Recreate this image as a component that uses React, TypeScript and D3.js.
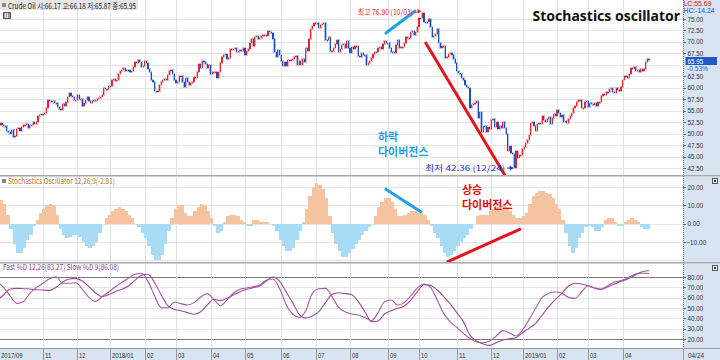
import React, { useEffect } from 'react';
import * as d3 from 'd3';

// ---- Daily closes (Crude Oil), by month ----
const firstOpen = 50.55;
const sep17 = [50.66, 51.88, 52.22, 51.88, 51.56, 51.67];
const oct17 = [50.58, 50.42, 49.98, 50.79, 49.29, 49.58, 50.92, 51.3, 50.6, 51.45, 51.87, 51.88, 52.04, 51.29, 51.84, 51.9, 52.47, 52.18, 52.64, 53.9, 54.15, 54.38];
const nov17 = [54.3, 54.54, 55.64, 57.35, 57.2, 56.81, 57.17, 56.74, 56.76, 55.7, 55.33, 55.14, 56.55, 56.09, 56.83, 58.02, 58.95, 58.11, 57.99, 57.3, 57.4];
const dec17 = [58.36, 57.47, 57.62, 55.96, 56.69, 57.36, 57.99, 57.14, 56.6, 57.04, 57.3, 57.16, 57.46, 57.69, 58.09, 58.47, 59.97, 59.64, 59.84, 60.42];
const jan18 = [60.37, 61.63, 62.01, 61.44, 61.73, 62.96, 63.57, 63.8, 64.3, 63.73, 63.97, 63.95, 63.37, 63.57, 64.47, 65.61, 65.51, 66.14, 65.56, 64.5, 64.73];
const feb18 = [65.8, 65.45, 64.15, 63.39, 61.79, 61.15, 59.2, 59.29, 59.19, 60.6, 61.34, 61.68, 61.9, 61.68, 62.77, 63.55, 63.91, 63.01, 61.64];
const mar18 = [61.0, 61.25, 62.57, 62.6, 61.15, 60.12, 62.04, 61.36, 60.71, 60.96, 61.19, 62.34, 62.06, 63.4, 65.17, 64.3, 65.88, 65.55, 65.25, 64.38, 64.94];
const apr18 = [63.01, 63.51, 63.37, 63.54, 62.06, 63.42, 65.51, 66.82, 67.07, 67.39, 66.22, 66.52, 68.47, 68.29, 68.38, 68.64, 67.7, 68.05, 68.19, 68.1, 68.57];
const may18 = [67.25, 67.93, 68.43, 69.72, 70.73, 69.06, 71.14, 71.36, 70.7, 70.96, 71.31, 71.49, 71.49, 71.28, 72.35, 72.2, 71.84, 70.71, 67.88, 66.73, 68.21, 67.04];
const jun18 = [65.81, 64.75, 65.52, 64.73, 65.95, 65.74, 66.1, 66.36, 66.64, 66.89, 65.06, 65.85, 65.07, 66.22, 65.54, 68.58, 68.08, 70.53, 72.76, 73.45, 74.15];
const jul18 = [73.94, 74.14, 72.94, 73.8, 73.85, 74.11, 70.38, 70.33, 71.01, 68.06, 68.08, 68.76, 69.46, 70.46, 67.89, 68.52, 69.3, 69.61, 68.69, 70.13, 68.76];
const aug18 = [67.66, 68.96, 68.49, 69.01, 69.17, 66.94, 66.81, 67.63, 67.2, 67.04, 65.01, 65.46, 65.91, 66.43, 67.35, 67.86, 67.83, 68.72, 68.87, 68.53, 69.51, 70.25, 69.8];
const sep18 = [69.87, 68.72, 67.77, 67.75, 67.54, 69.25, 70.37, 68.59, 68.99, 68.91, 69.85, 71.12, 70.8, 70.78, 72.08, 72.28, 71.57, 72.12, 73.25];
const oct18 = [75.3, 75.23, 76.41, 74.33, 74.34, 74.29, 74.96, 73.17, 70.97, 71.34, 71.78, 72.92, 69.75, 68.65, 69.12, 69.17, 66.43, 66.82, 67.33, 67.59, 67.04, 66.18, 65.31];
const nov18 = [63.69, 63.14, 63.1, 62.21, 61.67, 60.67, 60.19, 59.93, 55.69, 56.25, 56.46, 56.76, 57.2, 53.43, 54.63, 50.42, 51.63, 51.56, 50.29, 51.45, 50.93];
const dec18 = [52.95, 53.25, 51.49, 52.61, 51.0, 51.65, 51.15, 52.58, 51.2, 49.88, 46.24, 47.2, 45.88, 45.59, 42.53, 46.22, 44.61, 45.33, 45.41];
const jan19 = [46.54, 47.09, 47.96, 48.52, 49.78, 52.36, 52.59, 51.59, 50.51, 52.11, 52.31, 52.07, 53.8, 53.01, 52.62, 53.13, 53.69, 51.99, 53.31, 54.23, 53.79];
const feb19 = [55.26, 54.56, 53.66, 54.01, 52.64, 52.72, 52.41, 53.1, 53.9, 54.41, 55.59, 56.09, 56.92, 57.26, 57.26, 55.48, 55.5, 56.94, 57.22];
const mar19 = [55.8, 56.59, 56.56, 56.22, 56.66, 56.07, 56.79, 56.87, 58.26, 58.61, 58.52, 59.09, 59.03, 59.83, 59.98, 59.04, 58.82, 59.94, 59.41, 59.3, 60.14];
const apr19 = [61.59, 62.58, 62.46, 62.1, 63.08, 64.4, 64.05, 64.61, 63.58, 63.89, 63.4, 64.05, 63.76, 64.0, 65.7, 66.3, 65.95];

const monthCloses = [sep17, oct17, nov17, dec17, jan18, feb18, mar18, apr18, may18, jun18, jul18, aug18, sep18, oct18, nov18, dec18, jan19, feb19, mar19, apr19];
const monthLabels = ['2017/09', '', '11', '12', '2018/01', '02', '03', '04', '05', '06', '07', '08', '09', '10', '11', '12', '2019/01', '02', '03', '04'];

// ---- Stochastics oscillator histogram (one value per 2 trading days) ----
const oscHist = [
  13, 13, 11, 5, -3, -11, -16, -16, -13, -9, -6, -1, 2, 6, 8, 10, 11, 10, 5, -3,
  -6, -8, -7, -6, -6, -7, -10, -12, -13, -12, -10, -5, 0, 3, 5, 7, 8, 9, 8, 7,
  5, 3, 0, -2, -5, -8, -12, -17, -20, -20, -17, -11, -4, 3, 8, 10, 10, 6, 4, 4,
  7, 9, 11, 10, 7, 3, -1, -5, -4, 1, 4, 5, 5, 4, 2, 1, -1, -1, 2, 2,
  1, 1, 1, 0, -1, -4, -9, -12, -15, -15, -13, -9, -4, 1, 8, 15, 20, 22, 21, 19,
  14, 4, -5, -11, -15, -18, -18, -16, -14, -11, -9, -6, -4, -2, 0, 4, 9, 12, 14, 14,
  12, 8, 4, 4, 5, 6, 7, 7, 6, 6, 5, 2, -1, -5, -8, -12, -16, -18, -17, -15,
  -12, -10, -8, -6, -3, 0, 4, 5, 5, 5, 7, 8, 9, 10, 10, 9, 7, 5, 3, 3,
  4, 6, 11, 15, 17, 18, 18, 17, 16, 14, 11, 8, 2, -5, -12, -16, -13, -8, -5, -2,
  -1, -2, -4, -4, -2, 2, 3, 3, 1, -1, -1, 1, 2, 3, 2, 1, -2, -3, -2.81,
];

// ---- Fast %D / Slow %D (one value per 4 trading days, last = latest bar) ----
const fastD = [
  75.5, 70.0, 61.6, 54.5, 56.1, 64.2, 69.7, 73.9, 78.4, 80.3, 73.9, 73.9, 74.5, 68.1, 60.3, 56.4, 61.0, 65.5, 70.3, 74.8,
  78.7, 82.6, 83.6, 75.5, 61.6, 50.3, 50.3, 55.8, 54.2, 52.9, 55.2, 60.6, 63.9, 58.4, 52.2, 57.7, 64.5, 68.1, 69.4, 70.6,
  72.3, 76.8, 78.1, 69.0, 53.5, 44.2, 40.9, 47.4, 64.2, 68.7, 69.0, 61.0, 50.6, 46.4, 44.2, 43.2, 40.9, 37.7, 45.5, 56.1,
  57.7, 52.9, 55.2, 61.9, 69.4, 73.2, 70.0, 57.7, 44.8, 36.5, 31.3, 25.5, 20.6, 17.1, 16.4, 18.0, 22.9, 28.1, 26.1, 22.9,
  28.7, 39.0, 49.7, 60.3, 64.2, 65.5, 64.2, 60.3, 59.3, 65.8, 71.6, 69.0, 68.1, 71.9, 75.2, 76.5, 79.0, 82.3, 83.6, 83.6,
  83.27,
];
const slowD = [
  57.7, 62.6, 68.4, 69.0, 68.7, 68.4, 67.7, 67.4, 67.1, 70.0, 75.2, 78.1, 78.7, 76.1, 70.6, 64.8, 61.0, 62.9, 65.8, 68.1,
  71.3, 76.8, 81.6, 82.6, 74.5, 62.6, 52.2, 48.7, 47.4, 45.5, 43.9, 46.4, 52.9, 58.4, 57.1, 59.3, 62.6, 65.8, 68.1, 69.7,
  71.3, 76.1, 80.0, 76.1, 65.8, 55.2, 43.9, 40.3, 42.2, 46.4, 55.2, 63.2, 64.8, 63.9, 62.9, 56.1, 46.4, 36.8, 37.4, 44.2,
  47.4, 49.7, 51.9, 57.7, 65.8, 72.6, 71.9, 67.4, 61.0, 53.9, 45.5, 36.8, 23.8, 18.0, 15.1, 13.8, 16.4, 19.0, 20.3, 21.3,
  26.1, 30.3, 35.2, 43.2, 51.3, 58.4, 64.2, 71.3, 73.9, 73.2, 71.3, 69.4, 68.1, 70.6, 73.2, 75.8, 78.1, 81.3, 84.5, 86.1,
  86.08,
];

// ---- Axis ticks ----
const priceTicks = [42.5, 45, 47.5, 50, 52.5, 55, 57.5, 60, 62.5, 65, 67.5, 70, 72.5, 75];
const oscTicks = [20, 10, 0, -10];
const oscGrid = [20, 10, 0, -10, -20];
const stochTicks = [80, 70, 60, 50, 40, 30, 20];

// ---- Annotations (bar index / value) ----
const priceBlueLine = [{ i: 236.8, v: 71.95 }, { i: 254.4, v: 76.7 }];
const priceRedLine = [{ i: 261.1, v: 69.77 }, { i: 309.2, v: 40.98 }];
const oscBlueLine = [{ i: 236.8, v: 18.8 }, { i: 258.1, v: 6.5 }];
const oscRedLine = [{ i: 274.5, v: -20.7 }, { i: 318.3, v: -3.1 }];
const highIdx = 259;
const lowIdx = 315;

const KR = "'Noto Sans CJK KR', 'Noto Sans', sans-serif";
const NUM = "'Liberation Sans', Arial, sans-serif";
const AX_BG = '#d8e4f2';

function tl(s: string, digit = 3.5) {
  let w = 0;
  for (const ch of s) {
    if (ch >= '0' && ch <= '9') w += digit;
    else if (ch === '.' || ch === ':') w += 1.8;
    else if (ch === '-') w += 2.6;
    else if (ch === '/') w += 2.4;
    else if (ch === '%') w += 5;
    else w += 4.5;
  }
  return w;
}

export default function App() {
  useEffect(() => {
    document.body.style.margin = '0';
  }, []);

  const closes = monthCloses.flat();
  const n = closes.length;
  const monthStart: number[] = [];
  let acc = 0;
  for (const m of monthCloses) {
    monthStart.push(acc);
    acc += m.length;
  }

  const x = d3.scaleLinear().domain([0, n - 1]).range([-3, 649]);
  const step = x(1) - x(0);
  const yP = d3.scaleLinear().domain([42.5, 75]).range([168, 19]);
  const yO = d3.scaleLinear().domain([-10, 20]).range([242, 187]);
  const yS = d3.scaleLinear().domain([20, 80]).range([339, 277]);

  const stochIdx = (j: number, len: number) => (j < len - 1 ? j * 4 : n - 1);
  const lineGen = d3.line<number>().curve(d3.curveMonotoneX);
  const fastPath = lineGen.x((_, j) => x(stochIdx(j, fastD.length))).y((d) => yS(d))(fastD) || '';
  const slowPath = lineGen.x((_, j) => x(stochIdx(j, slowD.length))).y((d) => yS(d))(slowD) || '';

  const PR = 683;
  const gridX = monthStart.map((s, k) => ({ k, px: Math.round(x(s)) + 0.5 })).filter((g) => g.k >= 2);

  const candles = closes.map((c, i) => {
    const o = i === 0 ? firstOpen : closes[i - 1];
    const up = c >= o;
    const top = yP(Math.max(o, c));
    const bot = yP(Math.min(o, c));
    return { i, up, top, h: Math.max(1, bot - top) };
  });

  const pl = (pts: { i: number; v: number }[], ys: (v: number) => number) =>
    ({ x1: x(pts[0].i), y1: ys(pts[0].v), x2: x(pts[1].i), y2: ys(pts[1].v) });
  const pb = pl(priceBlueLine, yP);
  const pr = pl(priceRedLine, yP);
  const ob = pl(oscBlueLine, yO);
  const or = pl(oscRedLine, yO);

  const hiX = x(highIdx);
  const loX = x(lowIdx);
  const f2 = d3.format('.2f');
  const AFS = 7;
  const lastY = yP(65.95);

  return (
    <svg width={720} height={360} style={{ position: 'absolute', left: 0, top: 0, background: '#fff' }} fontFamily={KR}>
      <defs>
        <clipPath id="cp"><rect x={0} y={0} width={PR} height={175} /></clipPath>
        <clipPath id="co"><rect x={0} y={176} width={PR} height={86} /></clipPath>
        <clipPath id="cs"><rect x={0} y={263} width={PR} height={85} /></clipPath>
      </defs>
      <rect x={0} y={0} width={720} height={360} fill="#fff" />

      {/* horizontal gridlines */}
      {priceTicks.map((t) => (
        <line key={'pg' + t} x1={0} x2={PR} y1={Math.round(yP(t)) + 0.5} y2={Math.round(yP(t)) + 0.5} stroke="#e4e4e4" />
      ))}
      {oscGrid.map((t) => (
        <line key={'og' + t} x1={0} x2={PR} y1={Math.round(yO(t)) + 0.5} y2={Math.round(yO(t)) + 0.5} stroke="#e4e4e4" />
      ))}
      {stochTicks.map((t) => (
        <line key={'sg' + t} x1={0} x2={PR} y1={Math.round(yS(t)) + 0.5} y2={Math.round(yS(t)) + 0.5}
          stroke={t === 80 || t === 20 ? '#7a7a7a' : '#e4e4e4'} />
      ))}
      {/* vertical gridlines */}
      {gridX.map((g) => (
        <line key={'vg' + g.k} x1={g.px} x2={g.px} y1={0} y2={348} stroke="#e2e2e2" />
      ))}

      {/* candles */}
      <g clipPath="url(#cp)" shapeRendering="crispEdges">
        {candles.map((c) => (
          <rect key={'h' + c.i} x={x(c.i) - 1.1} y={c.top - 1} width={2.2} height={c.h + 2}
            fill={c.up ? '#f6b3b3' : '#a9c1ee'} />
        ))}
        {candles.map((c) => (
          <rect key={'b' + c.i} x={x(c.i) - 0.6} y={c.top} width={1.2} height={c.h}
            fill={c.up ? '#e3262b' : '#1c4fbe'} />
        ))}
      </g>

      {/* oscillator histogram */}
      <g clipPath="url(#co)" shapeRendering="crispEdges">
        {oscHist.map((v, k) => {
          const x0 = x(2 * k) - step / 2;
          const y0 = yO(0);
          const yv = yO(v);
          return (
            <rect key={'o' + k} x={x0} width={2 * step + 0.3} y={Math.min(y0, yv)} height={Math.abs(yv - y0)}
              fill={v >= 0 ? '#f6c3a1' : '#a8dcf4'} />
          );
        })}
      </g>

      {/* stochastic lines */}
      <g clipPath="url(#cs)" fill="none">
        <path d={slowPath} stroke="#9b4c9d" strokeWidth={1.1} />
        <path d={fastPath} stroke="#a45aa6" strokeWidth={1.1} />
      </g>

      {/* annotations: divergence lines */}
      <line {...pb} stroke="#1ea2e2" strokeWidth={3} strokeLinecap="round" />
      <line {...pr} stroke="#e4141c" strokeWidth={3} strokeLinecap="round" />
      <line {...ob} stroke="#1ea2e2" strokeWidth={3} strokeLinecap="round" />
      <line {...or} stroke="#e4141c" strokeWidth={3} strokeLinecap="round" />

      {/* high / low labels */}
      <text x={358} y={15} fontSize={8} fill="#e02828" textLength={55} lengthAdjust="spacingAndGlyphs">최고 76.90 (10/03)</text>
      <line x1={414} x2={hiX - 2} y1={12.5} y2={11.5} stroke="#e02828" strokeWidth={1} />
      <path d={`M${hiX - 1},11.3 l-4,-2.5 l0.6,4.6 z`} fill="#e02828" />
      <text x={425} y={170.5} fontSize={8} fill="#2233c8" textLength={80} lengthAdjust="spacingAndGlyphs">최저 42.36 (12/24)</text>
      <line x1={507} x2={loX - 1.5} y1={168} y2={168} stroke="#2233c8" strokeWidth={1} />
      <path d={`M${loX - 1},168 l-3.5,-2.5 l0,5 z`} fill="#2233c8" />

      {/* divergence text */}
      <text x={378} y={141} fontSize={11} fontWeight={700} fill="#1e9ee0">하락</text>
      <text x={378} y={156} fontSize={11} fontWeight={700} fill="#1e9ee0">다이버전스</text>
      <text x={462} y={194} fontSize={11} fontWeight={700} fill="#e01010">상승</text>
      <text x={462} y={209} fontSize={11} fontWeight={700} fill="#e01010">다이버전스</text>

      {/* title */}
      <text x={680} y={21} textAnchor="end" fontSize={14} fontWeight={700} fill="#111"
        fontFamily="'Noto Sans', sans-serif">Stochastics oscillator</text>

      {/* panel headers */}
      <rect x={0} y={0} width={138} height={10} fill="#e6e6e6" />
      <rect x={2} y={3} width={4} height={4} fill="#888" />
      <text x={8} y={8.5} fontSize={8} fill="#222" textLength={128} lengthAdjust="spacingAndGlyphs">Crude Oil 시:66.17 고:66.18 저:65.87 종:65.95</text>
      <rect x={3.5} y={12.5} width={7} height={6} fill="#9a9a9a" stroke="#555" />
      <line x1={5.5} x2={5.5} y1={13} y2={18} stroke="#eee" />
      <line x1={7.5} x2={7.5} y1={13} y2={18} stroke="#eee" />
      <rect x={2} y={179} width={4} height={4} fill="#888" />
      <text x={8} y={184} fontSize={8} fill="#b8722e" textLength={107} lengthAdjust="spacingAndGlyphs">Stochastics Oscillator 12,26,9(-2.81)</text>
      <text x={3} y={269.5} fontSize={8} fill="#8d3f8f" textLength={116} lengthAdjust="spacingAndGlyphs">Fast %D 12,26(83.27)  Slow %D 9(86.08)</text>

      {/* right axis panel */}
      <rect x={PR} y={0} width={720 - PR} height={360} fill={AX_BG} />
      <line x1={0} x2={720} y1={175.5} y2={175.5} stroke="#a8a8a8" />
      <line x1={0} x2={720} y1={176.5} y2={176.5} stroke="#d0d0d0" />
      <line x1={0} x2={720} y1={262.5} y2={262.5} stroke="#a8a8a8" />
      <line x1={0} x2={720} y1={263.5} y2={263.5} stroke="#d0d0d0" />
      <line x1={PR + 0.5} x2={PR + 0.5} y1={0} y2={348} stroke="#777" strokeDasharray="1,1" />

      <g fontFamily={NUM}>
        {priceTicks.filter((t) => t !== 65).map((t) => (
          <g key={'pt' + t}>
            <line x1={PR} x2={PR + 3} y1={Math.round(yP(t)) + 0.5} y2={Math.round(yP(t)) + 0.5} stroke="#666" />
            <text x={687.5} y={yP(t) + 2.5} fontSize={AFS} fill="#333" textLength={tl(f2(t))} lengthAdjust="spacingAndGlyphs">
              {f2(t)}
            </text>
          </g>
        ))}
        <text x={683.5} y={5.9} fontSize={6.5} fill="#e02020" textLength={28} lengthAdjust="spacingAndGlyphs">LC:55.69</text>
        <text x={683.5} y={13.4} fontSize={6.5} fill="#2050e0" textLength={31} lengthAdjust="spacingAndGlyphs">HC:-14.24</text>
        <rect x={685.5} y={57} width={31.5} height={8} fill="#2159c9" />
        <text x={687.5} y={lastY + 3.3} fontSize={AFS} fill="#fff" textLength={tl('65.95')} lengthAdjust="spacingAndGlyphs">65.95</text>
        <text x={687} y={lastY + 10.9} fontSize={6.5} fill="#2a5fd6" textLength={21} lengthAdjust="spacingAndGlyphs">-0.53%</text>

        {oscTicks.map((t) => (
          <g key={'ot' + t}>
            <line x1={PR} x2={PR + 3} y1={Math.round(yO(t)) + 0.5} y2={Math.round(yO(t)) + 0.5} stroke="#666" />
            <text x={t < 0 ? 686 : 687.5} y={yO(t) + 2.5} fontSize={AFS} fill="#333" textLength={tl(f2(t))} lengthAdjust="spacingAndGlyphs">
              {f2(t)}
            </text>
          </g>
        ))}
        {stochTicks.map((t) => (
          <g key={'st' + t}>
            <line x1={PR} x2={PR + 3} y1={Math.round(yS(t)) + 0.5} y2={Math.round(yS(t)) + 0.5} stroke="#666" />
            <text x={687.5} y={yS(t) + 2.5} fontSize={AFS} fill="#333" textLength={tl(f2(t))} lengthAdjust="spacingAndGlyphs">
              {f2(t)}
            </text>
          </g>
        ))}
      </g>
      {[178, 265].map((yy) => (
        <g key={'btn' + yy}>
          <rect x={712.5} y={yy + 0.5} width={5} height={5} fill="#f2f2f2" stroke="#555" />
          <rect x={714} y={yy + 2} width={2} height={2} fill="#333" />
        </g>
      ))}

      {/* x axis strip */}
      <rect x={0} y={348} width={720} height={12} fill={AX_BG} />
      <line x1={0} x2={720} y1={348.5} y2={348.5} stroke="#9a9a9a" />
      <line x1={PR + 0.5} x2={PR + 0.5} y1={348} y2={360} stroke="#9a9a9a" />
      {gridX.map((g) => (
        <line key={'xt' + g.k} x1={g.px} x2={g.px} y1={348} y2={360} stroke="#9a9a9a" />
      ))}
      <g fontFamily={NUM}>
        {monthLabels.map((lab, k) => {
          if (!lab) return null;
          const px = k === 0 ? 1 : Math.round(x(monthStart[k])) + 2;
          return (
            <text key={'xl' + k} x={px} y={357.5} fontSize={AFS} fill="#333" textLength={tl(lab, 3.2)} lengthAdjust="spacingAndGlyphs">
              {lab}
            </text>
          );
        })}
        <text x={688} y={357.5} fontSize={AFS} fill="#333" textLength={tl('04/24', 3.4)} lengthAdjust="spacingAndGlyphs">04/24</text>
      </g>
    </svg>
  );
}
